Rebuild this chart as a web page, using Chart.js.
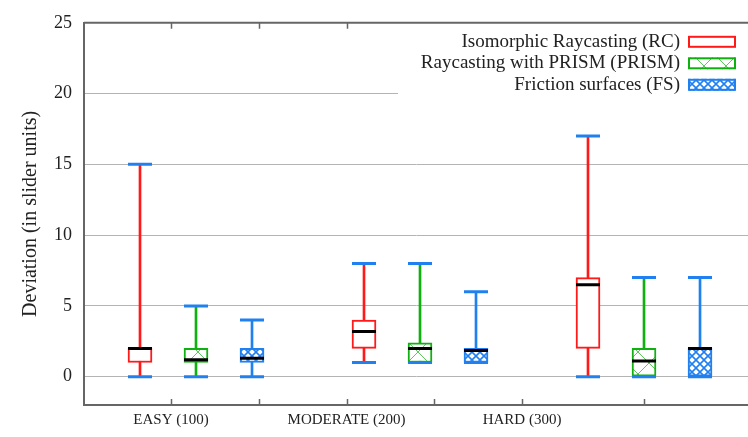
<!DOCTYPE html>
<html>
<head>
<meta charset="utf-8">
<script src="https://cdn.jsdelivr.net/npm/chart.js@4/dist/chart.umd.min.js"></script>
<style>
  html, body { margin: 0; padding: 0; background: #fff; }
  canvas { display: block; }
</style>
</head>
<body>
<canvas id="chart" width="748" height="437"></canvas>
<script>
// Difficulty levels shown along the x axis
const groups = ['EASY (100)', 'MODERATE (200)', 'HARD (300)'];
const seriesNames = ['Isomorphic Raycasting (RC)', 'Raycasting with PRISM (PRISM)', 'Friction surfaces (FS)'];

// Box statistics per technique, one value per difficulty level
const rcMin    = [0, 1, 0];
const rcQ1     = [1, 2, 2];
const rcMedian = [2, 3.2, 6.5];
const rcQ3     = [2, 4, 7];
const rcMax    = [15, 8, 17];

const prismMin    = [0, 1, 0];
const prismQ1     = [1, 1, 0];
const prismMedian = [1.2, 2, 1.1];
const prismQ3     = [2, 2.4, 2];
const prismMax    = [5, 8, 7];

const fsMin    = [0, 1, 0];
const fsQ1     = [1, 1, 0];
const fsMedian = [1.3, 1.85, 2];
const fsQ3     = [2, 2, 2];
const fsMax    = [4, 6, 7];

// Box slots: each level uses three consecutive slots followed by one empty slot
const slotsPerGroup = 4;

// x-axis tick positions (in slot units) and y-axis tick values
const xLabelTicks = [0.554, 3.688, 6.822];
const xMinorTicks = [2.121, 5.255, 9.0];
const yTicks = [0, 5, 10, 15, 20, 25];

const RED = '#ff1a1a', GREEN = '#10b010', BLUE = '#2080f0';
const FONT = "'Liberation Serif', 'DejaVu Serif', serif";
const TEXT = '#222';

function makePattern(size, color, width, bg) {
  const c = document.createElement('canvas');
  c.width = size; c.height = size;
  const g = c.getContext('2d');
  g.fillStyle = bg;
  g.fillRect(0, 0, size, size);
  g.strokeStyle = color;
  g.lineWidth = width;
  g.beginPath();
  g.moveTo(-2, -2); g.lineTo(size + 2, size + 2);
  g.moveTo(size + 2, -2); g.lineTo(-2, size + 2);
  g.stroke();
  return g.createPattern(c, 'repeat');
}

const ctx = document.getElementById('chart').getContext('2d');
const fills = [
  '#ffffff',
  makePattern(22, 'rgba(40,180,40,0.75)', 1, '#ffffff'),
  makePattern(8, BLUE, 1.6, '#ffffff')
];
const colors = [RED, GREEN, BLUE];
const stats = [
  { min: rcMin, q1: rcQ1, med: rcMedian, q3: rcQ3, max: rcMax },
  { min: prismMin, q1: prismQ1, med: prismMedian, q3: prismQ3, max: prismMax },
  { min: fsMin, q1: fsQ1, med: fsMedian, q3: fsQ3, max: fsMax }
];

const slotOf = (seriesIdx, groupIdx) => groupIdx * slotsPerGroup + seriesIdx;

const datasets = [];
stats.forEach((s, i) => {
  // whisker stem from minimum to maximum
  datasets.push({
    type: 'bar', label: seriesNames[i] + ' whisker', grouped: false, order: 4,
    data: groups.map((_, g) => ({ x: slotOf(i, g), y: [s.min[g], s.max[g]] })),
    backgroundColor: colors[i], borderWidth: 0, barThickness: 2
  });
  // interquartile box
  datasets.push({
    type: 'bar', label: seriesNames[i], grouped: false, order: 3,
    data: groups.map((_, g) => ({ x: slotOf(i, g), y: [s.q1[g], s.q3[g]] })),
    backgroundColor: fills[i], borderColor: colors[i], borderWidth: 2,
    borderSkipped: false, barThickness: 24
  });
  // median bar
  datasets.push({
    type: 'scatter', label: seriesNames[i] + ' median', order: 2,
    data: groups.map((_, g) => ({ x: slotOf(i, g), y: s.med[g] })),
    pointStyle: 'line', pointRadius: 12, borderColor: '#000', borderWidth: 3,
    backgroundColor: '#000'
  });
  // whisker caps
  datasets.push({
    type: 'scatter', label: seriesNames[i] + ' caps', order: 1,
    data: groups.flatMap((_, g) => [
      { x: slotOf(i, g), y: s.min[g] },
      { x: slotOf(i, g), y: s.max[g] }
    ]),
    pointStyle: 'line', pointRadius: 12, borderColor: BLUE, borderWidth: 3,
    backgroundColor: BLUE
  });
});

// Frame, inward tick marks and the key in the upper-right corner
const framePlugin = {
  id: 'frame',
  afterDraw(chart) {
    const { ctx, chartArea: a, scales } = chart;
    const xs = scales.x;
    ctx.save();

    // key
    const keyLeft = a.right - 350, keyTop = a.top + 2;
    ctx.fillStyle = '#fff';
    ctx.fillRect(keyLeft, keyTop, a.right - keyLeft, 75);
    const textRight = a.right - 68;
    const sampleLeft = a.right - 60, sampleW = 48, sampleH = 12;
    ctx.font = '19px ' + FONT;
    ctx.textAlign = 'right';
    ctx.textBaseline = 'middle';
    seriesNames.forEach((name, i) => {
      const cy = a.top + 19 + i * 21.5;
      ctx.fillStyle = TEXT;
      ctx.fillText(name, textRight, cy);
      ctx.fillStyle = fills[i];
      ctx.fillRect(sampleLeft, cy - sampleH / 2, sampleW, sampleH);
      ctx.strokeStyle = colors[i];
      ctx.lineWidth = 2;
      ctx.strokeRect(sampleLeft + 1, cy - sampleH / 2 + 1, sampleW - 2, sampleH - 2);
    });

    // top border
    ctx.strokeStyle = '#666';
    ctx.lineWidth = 2;
    ctx.beginPath();
    ctx.moveTo(a.left, a.top);
    ctx.lineTo(a.right, a.top);
    ctx.stroke();

    // inward x ticks on bottom and top borders
    ctx.lineWidth = 1.5;
    ctx.beginPath();
    xLabelTicks.concat(xMinorTicks).forEach(v => {
      const px = Math.round(xs.getPixelForValue(v)) + 0.5;
      if (px > a.right) return;
      ctx.moveTo(px, a.bottom); ctx.lineTo(px, a.bottom - 6);
      if (px < keyLeft) {
        ctx.moveTo(px, a.top); ctx.lineTo(px, a.top + 6);
      }
    });
    ctx.stroke();
    ctx.restore();
  }
};

new Chart(ctx, {
  type: 'bar',
  data: { datasets },
  plugins: [framePlugin],
  options: {
    responsive: false,
    animation: false,
    devicePixelRatio: 1,
    layout: { autoPadding: false, padding: { top: 21, right: 0, bottom: 0, left: 0 } },
    plugins: { legend: { display: false }, tooltip: { enabled: false } },
    scales: {
      x: {
        type: 'linear',
        offset: false,
        min: -1,
        max: 10.857,
        afterFit(scale) { scale.height = 32; scale.paddingRight = 0; scale.paddingLeft = 0; },
        afterBuildTicks(scale) { scale.ticks = xLabelTicks.map(v => ({ value: v })); },
        ticks: {
          autoSkip: false,
          maxRotation: 0,
          padding: 6,
          color: TEXT,
          font: { family: FONT, size: 15 },
          callback: (v, i) => groups[i]
        },
        grid: { display: false, drawTicks: false },
        border: { display: true, color: '#666', width: 2 }
      },
      y: {
        type: 'linear',
        min: -2,
        max: 25,
        afterFit(scale) { scale.width = 84; },
        afterBuildTicks(scale) { scale.ticks = yTicks.map(v => ({ value: v })); },
        ticks: {
          padding: 12,
          color: TEXT,
          font: { family: FONT, size: 18 }
        },
        grid: { color: '#b4b4b4', lineWidth: 1, drawTicks: false },
        border: { display: true, color: '#666', width: 2 },
        title: {
          display: true,
          text: 'Deviation (in slider units)',
          color: TEXT,
          font: { family: FONT, size: 20 },
          padding: { top: 19, bottom: 0 }
        }
      }
    }
  }
});
</script>
</body>
</html>
